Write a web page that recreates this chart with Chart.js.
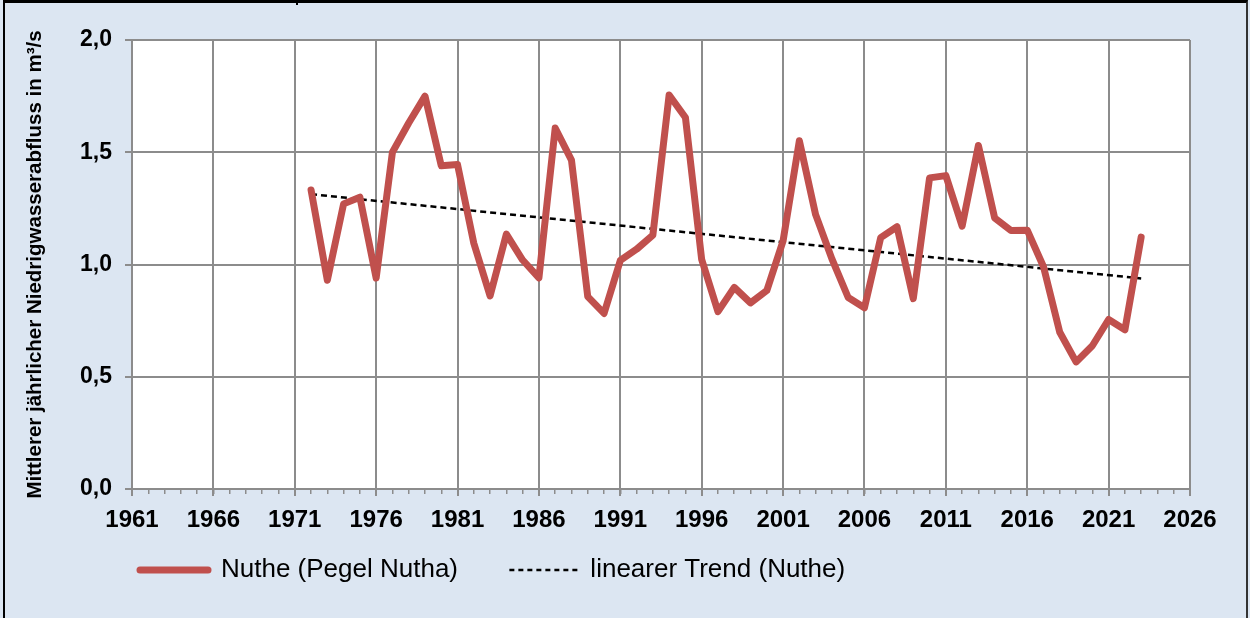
<!DOCTYPE html>
<html>
<head>
<meta charset="utf-8">
<script src="https://cdn.jsdelivr.net/npm/chart.js@4/dist/chart.umd.min.js"></script>
<style>
  html, body { margin: 0; padding: 0; background: #dce6f2; }
  #wrap { position: relative; width: 1250px; height: 618px; overflow: hidden; }
  #frame {
    position: absolute; left: 3px; top: 0; width: 1241px; height: 618px;
    border-top: 3px solid #000; border-left: 2px solid #000; border-right: 2px solid #333;
    pointer-events: none;
  }
  #stub { position: absolute; left: 296px; top: 0; width: 2px; height: 5px; background: #000; }
</style>
</head>
<body>
<div id="wrap">
  <canvas id="myChart"></canvas>
  <div id="frame"></div>
  <div id="stub"></div>
</div>
<script>
// Jahre der Messreihe
const jahre = Array.from({length: 52}, (_, i) => 1972 + i);
// Mittlerer jährlicher Niedrigwasserabfluss Nuthe (Pegel Nutha), m³/s
const abfluss = [
  1.332, 0.93, 1.27, 1.30, 0.94, 1.50, 1.63, 1.75, 1.44, 1.445,
  1.095, 0.86, 1.135, 1.02, 0.94, 1.608, 1.465, 0.857, 0.782, 1.018,
  1.068, 1.131, 1.755, 1.655, 1.022, 0.79, 0.898, 0.829, 0.884, 1.105,
  1.551, 1.222, 1.025, 0.853, 0.807, 1.12, 1.168, 0.848, 1.386, 1.396,
  1.171, 1.53, 1.207, 1.151, 1.153, 0.99, 0.698, 0.566, 0.638, 0.755,
  0.709, 1.122
];
// linearer Trend: Anfangs- und Endwert
const trendJahre = [1972, 2023];
const trendWerte = [1.313, 0.938];
// Achsenbeschriftung
const xTickJahre = [1961, 1966, 1971, 1976, 1981, 1986, 1991, 1996, 2001, 2006, 2011, 2016, 2021, 2026];
const seriesLabels = ['Nuthe (Pegel Nutha)', 'linearer Trend (Nuthe)'];

const FONT = '"Liberation Sans", Arial, sans-serif';
const GRID = '#8c8c8c';

// weisse Zeichenflaeche
const plotBg = {
  id: 'plotBg',
  beforeDraw(chart) {
    const {ctx, chartArea: a} = chart;
    ctx.save();
    ctx.fillStyle = '#ffffff';
    ctx.fillRect(a.left, a.top, a.right - a.left, a.bottom - a.top);
    ctx.restore();
  }
};

const ctx = document.getElementById('myChart');
new Chart(ctx, {
  type: 'line',
  plugins: [plotBg],
  data: {
    datasets: [
      {
        label: seriesLabels[0],
        data: jahre.map((j, i) => ({x: j, y: abfluss[i]})),
        borderColor: '#c0504d',
        borderWidth: 7,
        borderCapStyle: 'round',
        borderJoinStyle: 'round',
        pointRadius: 0,
        tension: 0
      },
      {
        label: seriesLabels[1],
        data: trendJahre.map((j, i) => ({x: j, y: trendWerte[i]})),
        borderColor: '#000000',
        borderWidth: 2.5,
        borderDash: [6, 4],
        pointRadius: 0
      }
    ]
  },
  options: {
    responsive: true,
    maintainAspectRatio: false,
    animation: false,
    events: [],
    layout: { padding: { left: 0, top: 40, right: 60, bottom: 25 } },
    scales: {
      x: {
        type: 'linear',
        position: 'bottom',
        weight: 1,
        min: 1961,
        max: 2026,
        afterBuildTicks: s => { s.ticks = xTickJahre.map(v => ({value: v})); },
        afterFit: s => { s.height = 60; },
        grid: { color: GRID, lineWidth: 2, tickLength: 7, tickColor: GRID },
        border: { color: GRID, width: 2 },
        ticks: {
          autoSkip: false,
          maxRotation: 0,
          padding: 10,
          color: '#000',
          font: { family: FONT, size: 24, weight: 'bold' },
          callback: v => String(v)
        }
      },
      x2: {
        type: 'linear',
        position: 'bottom',
        weight: 0,
        min: 1961,
        max: 2026,
        afterBuildTicks: s => {
          const t = [];
          for (let j = 1961; j <= 2026; j++) t.push({value: j});
          s.ticks = t;
        },
        afterFit: s => { s.height = 0; },
        grid: { drawOnChartArea: false, color: GRID, lineWidth: 1.5, tickLength: 5 },
        border: { display: false },
        ticks: { display: false, autoSkip: false }
      },
      y: {
        min: 0,
        max: 2,
        afterFit: s => { s.width = 132; },
        grid: { color: GRID, lineWidth: 2, tickLength: 7, tickColor: GRID },
        border: { color: GRID, width: 2 },
        ticks: {
          stepSize: 0.5,
          padding: 13,
          color: '#000',
          font: { family: FONT, size: 23, weight: 'bold' },
          callback: v => v.toFixed(1).replace('.', ',')
        },
        title: {
          display: true,
          text: 'Mittlerer jährlicher Niedrigwasserabfluss in m³/s',
          color: '#000',
          font: { family: FONT, size: 20.5, weight: 'bold' },
          padding: { top: 23, bottom: 0 }
        }
      }
    },
    plugins: {
      tooltip: { enabled: false },
      legend: {
        position: 'bottom',
        align: 'start',
        fullSize: false,
        labels: {
          usePointStyle: true,
          pointStyleWidth: 68,
          padding: 8,
          color: '#000',
          font: { family: FONT, size: 26 },
          generateLabels: chart => chart.data.datasets.map((ds, i) => ({
            text: i === 0 ? ds.label + '\u00a0'.repeat(6) : ds.label,
            fillStyle: ds.borderColor,
            strokeStyle: ds.borderColor,
            lineWidth: i === 0 ? 7 : 2.5,
            lineDash: i === 0 ? [] : [5, 4],
            lineCap: i === 0 ? 'round' : 'butt',
            pointStyle: 'line',
            fontColor: '#000',
            hidden: false,
            datasetIndex: i
          }))
        }
      }
    }
  }
});
</script>
</body>
</html>
